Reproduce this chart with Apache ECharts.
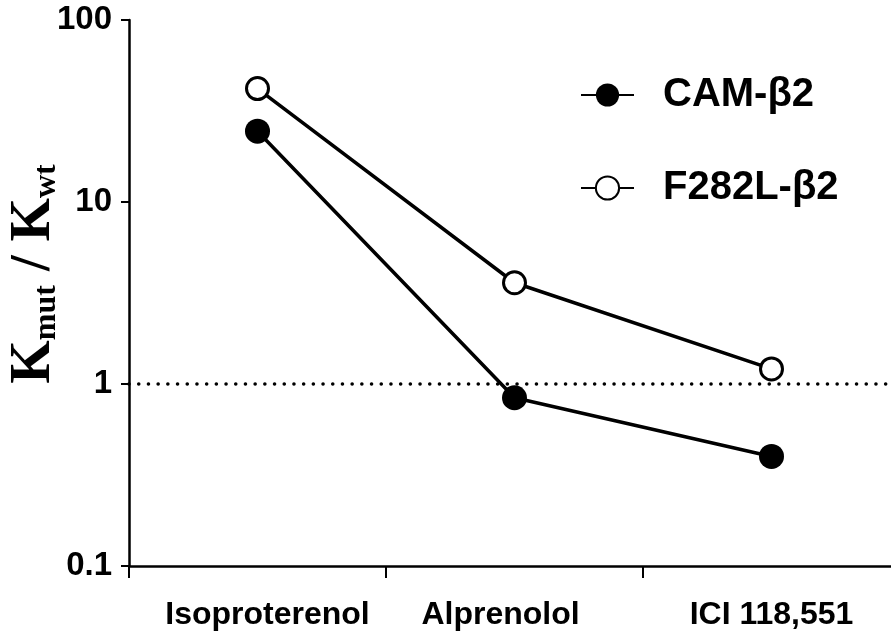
<!DOCTYPE html>
<html>
<head>
<meta charset="utf-8">
<script src="https://cdn.jsdelivr.net/npm/echarts@6/dist/echarts.min.js"></script>
<style>
html,body{margin:0;padding:0;background:#fff;}
#chart{width:891px;height:643px;}
</style>
</head>
<body>
<div id="chart"></div>
<script>
const categories = ['Isoproterenol', 'Alprenolol', 'ICI 118,551'];
const camValues = [24.5, 0.84, 0.40];
const f282lValues = [42, 3.6, 1.21];
const seriesNames = ['CAM-β2', 'F282L-β2'];
const refLineValue = 1;

const sans = '"Liberation Sans", Arial, sans-serif';
const serif = '"Liberation Serif", "Times New Roman", serif';
const chart = echarts.init(document.getElementById('chart'));
chart.setOption({
  animation: false,
  backgroundColor: '#ffffff',
  grid: { left: 129, right: -9, top: 20, bottom: 77, containLabel: false, outerBoundsMode: 'none' },
  legend: {
    orient: 'vertical',
    left: 575,
    top: 67,
    itemWidth: 53,
    itemHeight: 29,
    itemGap: 47,
    data: seriesNames,
    textStyle: {
      fontFamily: sans,
      fontWeight: 'bold',
      fontSize: 40,
      lineHeight: 46,
      color: '#000',
      padding: [0, 0, 0, 24]
    }
  },
  xAxis: {
    type: 'category',
    data: categories,
    boundaryGap: true,
    axisLine: { lineStyle: { color: '#000', width: 2.5 } },
    axisTick: { show: true, interval: 0, length: 12, lineStyle: { color: '#000', width: 2 } },
    axisLabel: {
      interval: 0,
      margin: 33,
      color: '#000',
      fontFamily: sans,
      fontWeight: 'bold',
      fontSize: 32,
      formatter: function (v, i) { return '{c' + i + '|' + v + '}'; },
      rich: {
        c0: { fontFamily: sans, fontWeight: 'bold', fontSize: 32, color: '#000', padding: [0, 0, 0, 20] },
        c1: { fontFamily: sans, fontWeight: 'bold', fontSize: 32, color: '#000', padding: [0, 28, 0, 0] },
        c2: { fontFamily: sans, fontWeight: 'bold', fontSize: 32, color: '#000' }
      }
    },
    splitLine: { show: false }
  },
  yAxis: {
    type: 'log',
    logBase: 10,
    min: 0.1,
    max: 100,
    axisLine: { show: true, lineStyle: { color: '#000', width: 2.5 } },
    axisTick: { show: true, length: 8, lineStyle: { color: '#000', width: 2 } },
    minorTick: { show: false },
    splitLine: { show: false },
    axisLabel: {
      margin: 17,
      color: '#000',
      fontFamily: sans,
      fontWeight: 'bold',
      fontSize: 33,
      formatter: function (v) { return String(Math.round(v * 10) / 10); }
    },
    name: '{k|K}{s|mut}{k| / K}{s|wt}',
    nameLocation: 'middle',
    nameRotate: 90,
    nameGap: 66,
    nameMoveOverlap: false,
    nameTextStyle: {
      padding: [0, 0, 0, 38],
      rich: {
        k: { fontFamily: serif, fontWeight: 'bold', fontSize: 56, color: '#000', lineHeight: 60, verticalAlign: 'bottom' },
        s: { fontFamily: serif, fontWeight: 'bold', fontSize: 32, color: '#000', lineHeight: 60, verticalAlign: 'bottom' }
      }
    }
  },
  series: [
    {
      name: seriesNames[0],
      type: 'line',
      data: camValues,
      symbol: 'circle',
      symbolSize: 25,
      lineStyle: { color: '#000', width: 3.5 },
      itemStyle: { color: '#000', borderColor: '#000', borderWidth: 0 },
      z: 3,
      markLine: {
        silent: true,
        symbol: 'none',
        label: { show: false },
        lineStyle: { color: '#000', width: 3.5, type: [0.1, 9.6], cap: 'round' },
        data: [{ yAxis: refLineValue }]
      }
    },
    {
      name: seriesNames[1],
      type: 'line',
      data: f282lValues,
      symbol: 'circle',
      symbolSize: 22,
      lineStyle: { color: '#000', width: 3.5 },
      itemStyle: { color: '#fff', borderColor: '#000', borderWidth: 3 },
      z: 3
    }
  ]
});
</script>
</body>
</html>
